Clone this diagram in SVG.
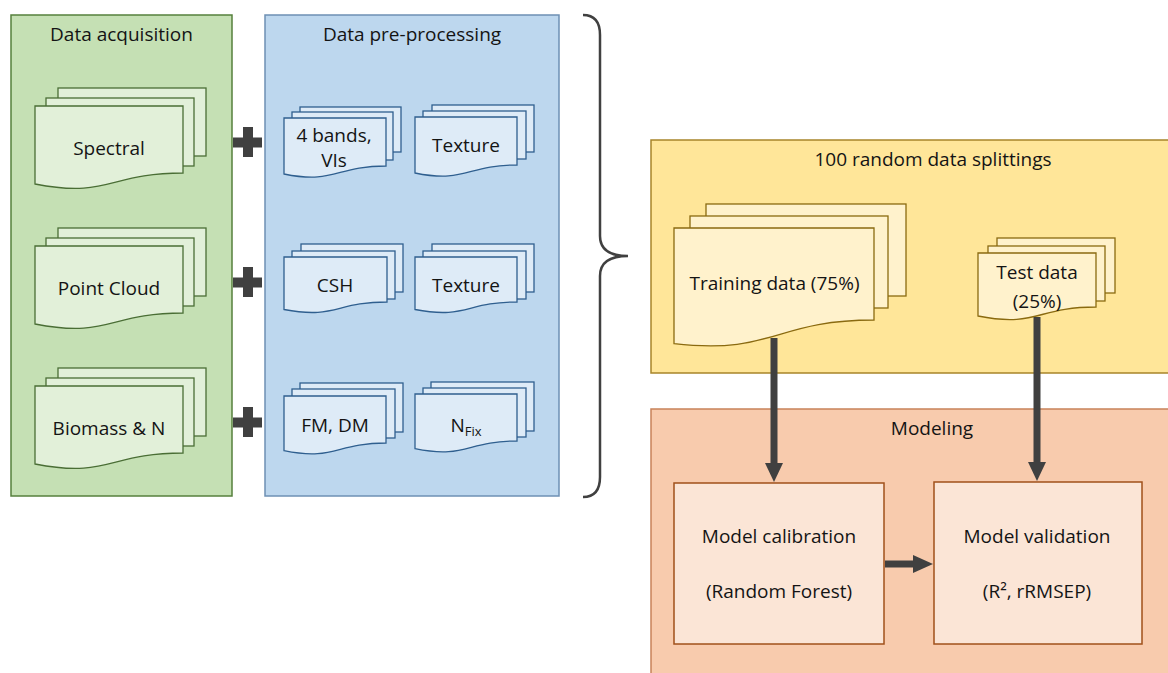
<svg xmlns="http://www.w3.org/2000/svg" width="1168" height="673" viewBox="0 0 1168 673">
<style>
text{font-family:"Open Sans","Liberation Sans",sans-serif;font-size:19px;fill:#141414;text-anchor:middle}
.gp{fill:#c5e0b4;stroke:#56803c;stroke-width:1.5}
.gd{fill:#e2f0d9;stroke:#4a6e35;stroke-width:1.3}
.bp{fill:#bdd7ee;stroke:#6e90b4;stroke-width:1.5}
.bd{fill:#deebf7;stroke:#2f5f8f;stroke-width:1.3}
.yp{fill:#ffe699;stroke:#a8852a;stroke-width:1.5}
.yd{fill:#fff2cc;stroke:#8a6a10;stroke-width:1.3}
.op{fill:#f8cbad;stroke:#c8825a;stroke-width:1.5}
.ob{fill:#fbe5d6;stroke:#a0501a;stroke-width:1.5}
.plus{fill:#404040}
.arr{stroke:#404040;stroke-width:7;fill:none}
.ah{fill:#404040}
</style>
<g id="data-acquisition">
<rect class="gp" x="11" y="15" width="221" height="481"/>
<text x="121.5" y="41">Data acquisition</text>
</g>
<g id="spectral">
<rect class="gd" x="58" y="88" width="148" height="68"/>
<rect class="gd" x="46" y="98" width="148" height="68"/>
<path class="gd" d="M35,106 H183 V173 C109,173 109,198.5 35,184 Z"/>
<text x="109" y="155">Spectral</text>
</g>
<g id="point-cloud">
<rect class="gd" x="58" y="228" width="148" height="68"/>
<rect class="gd" x="46" y="238" width="148" height="68"/>
<path class="gd" d="M35,246 H183 V313 C109,313 109,338.5 35,324 Z"/>
<text x="109" y="295">Point Cloud</text>
</g>
<g id="biomass">
<rect class="gd" x="58" y="368" width="148" height="68"/>
<rect class="gd" x="46" y="378" width="148" height="68"/>
<path class="gd" d="M35,386 H183 V453 C109,453 109,478.5 35,464 Z"/>
<text x="109" y="435">Biomass &amp; N</text>
</g>
<g id="plus-signs">
<path class="plus" d="M243,127 H253 V137.5 H262 V147.5 H253 V157 H243 V147.5 H233 V137.5 H243 Z"/>
<path class="plus" d="M243,267 H253 V277.5 H262 V287.5 H253 V297 H243 V287.5 H233 V277.5 H243 Z"/>
<path class="plus" d="M243,407 H253 V417.5 H262 V427.5 H253 V437 H243 V427.5 H233 V417.5 H243 Z"/>
</g>
<g id="data-preprocessing">
<rect class="bp" x="265" y="15" width="294" height="481"/>
<text x="412" y="41">Data pre-processing</text>
</g>
<g id="bands-vis">
<rect class="bd" x="300" y="107" width="101" height="45"/>
<rect class="bd" x="292" y="112" width="101" height="48"/>
<path class="bd" d="M284,118 H386 V166 C335,166 335,184.4 284,174 Z"/>
<text x="334" y="142">4 bands,</text>
<text x="334" y="167">VIs</text>
</g>
<g id="texture-1">
<rect class="bd" x="432" y="105" width="102" height="47"/>
<rect class="bd" x="423" y="111" width="103" height="48"/>
<path class="bd" d="M415,117 H517 V165 C466,165 466,183.4 415,173 Z"/>
<text x="466" y="152">Texture</text>
</g>
<g id="csh">
<rect class="bd" x="301" y="244" width="102" height="48"/>
<rect class="bd" x="292" y="251" width="103" height="48"/>
<path class="bd" d="M284,257 H387 V302 C335.5,302 335.5,319.3 284,309.5 Z"/>
<text x="335" y="292">CSH</text>
</g>
<g id="texture-2">
<rect class="bd" x="432" y="244" width="102" height="48"/>
<rect class="bd" x="423" y="251" width="103" height="48"/>
<path class="bd" d="M415,257 H517 V302 C466,302 466,319.3 415,309.5 Z"/>
<text x="466" y="292">Texture</text>
</g>
<g id="fm-dm">
<rect class="bd" x="300" y="383" width="103" height="49"/>
<rect class="bd" x="292" y="389" width="103" height="49"/>
<path class="bd" d="M284,396 H386 V443 C335,443 335,461 284,450.7 Z"/>
<text x="335" y="432">FM, DM</text>
</g>
<g id="n-fix">
<rect class="bd" x="431" y="382" width="103" height="49"/>
<rect class="bd" x="423" y="388" width="103" height="49"/>
<path class="bd" d="M415,394 H517 V441 C466,441 466,459 415,448.7 Z"/>
<text x="466" y="432">N<tspan font-size="13" dy="4">Fix</tspan></text>
</g>
<g id="brace">
<path d="M583,15 C595,15 600,22 600,35 V236 C600,250 610,256 628,256 C610,256 600,262 600,276 V477 C600,490 595,497 583,497" fill="none" stroke="#404040" stroke-width="2.5"/>
</g>
<g id="data-splittings">
<rect class="yp" x="651" y="140" width="530" height="233"/>
<text x="933" y="166">100 random data splittings</text>
</g>
<g id="training-data">
<rect class="yd" x="706" y="204" width="200" height="92"/>
<rect class="yd" x="690" y="216" width="198" height="92"/>
<path class="yd" d="M674,228 H874 V320 C774,320 774,355 674,343.6 Z"/>
<text x="774.5" y="290">Training data (75%)</text>
</g>
<g id="test-data">
<rect class="yd" x="997" y="238" width="118" height="55"/>
<rect class="yd" x="988" y="246" width="117" height="55"/>
<path class="yd" d="M978,253 H1096 V307 C1037,307 1037,327.6 978,316 Z"/>
<text x="1037" y="279">Test data</text>
<text x="1037" y="308">(25%)</text>
</g>
<g id="modeling">
<rect class="op" x="651" y="409" width="530" height="280"/>
<text x="932" y="435">Modeling</text>
</g>
<g id="model-calibration">
<rect class="ob" x="674" y="483" width="210" height="161"/>
<text x="779" y="543">Model calibration</text>
<text x="779" y="598">(Random Forest)</text>
</g>
<g id="model-validation">
<rect class="ob" x="934" y="482" width="208" height="162"/>
<text x="1037" y="543">Model validation</text>
<text x="1037" y="598">(R², rRMSEP)</text>
</g>
<g id="connectors">
<line class="arr" x1="774" y1="338" x2="774" y2="465"/>
<path class="ah" d="M765,463 H783 L774,482 Z"/>
<line class="arr" x1="1037" y1="317" x2="1037" y2="464"/>
<path class="ah" d="M1028,462 H1046 L1037,481 Z"/>
<line class="arr" x1="885" y1="564" x2="916" y2="564"/>
<path class="ah" d="M913,555 V573 L933,564 Z"/>
</g>
</svg>
